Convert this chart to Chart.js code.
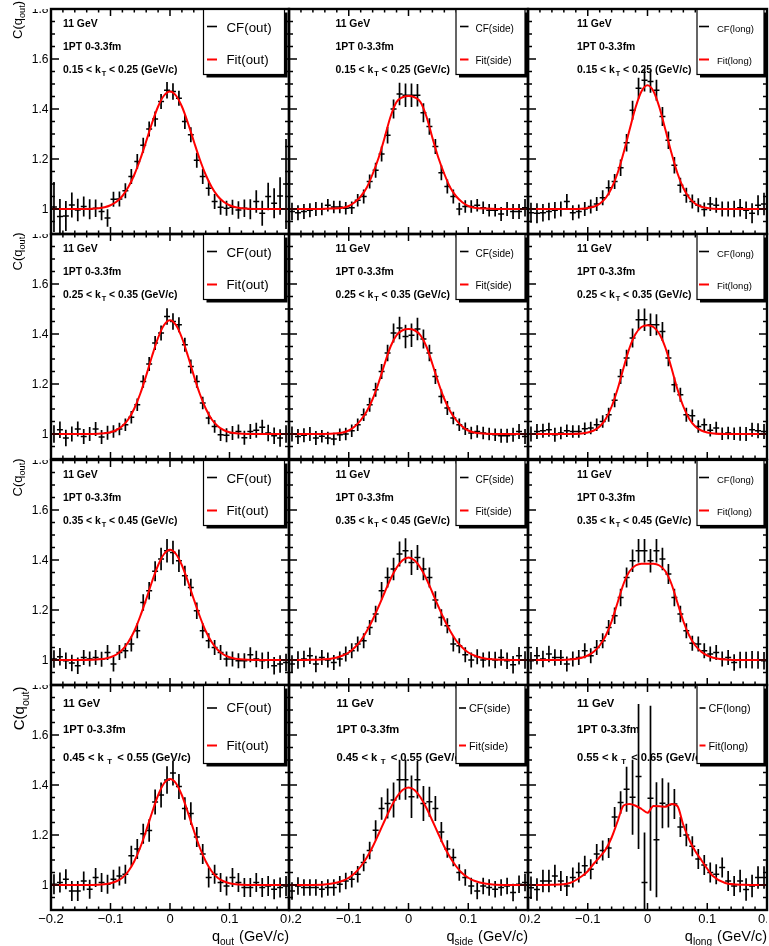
<!DOCTYPE html>
<html>
<head>
<meta charset="utf-8">
<script src="https://cdn.jsdelivr.net/npm/chart.js@4.4.1/dist/chart.umd.min.js"></script>
<style>
  html, body { margin: 0; padding: 0; background: #fff; }
  #wrap { position: relative; width: 769px; height: 946px; overflow: hidden; }
  #wrap canvas { position: absolute; }
</style>
</head>
<body>
<div id="wrap"></div>
<script>
// bin centres (GeV/c), bin width 0.01
const qBins = [-0.195,-0.185,-0.175,-0.165,-0.155,-0.145,-0.135,-0.125,-0.115,-0.105,
  -0.095,-0.085,-0.075,-0.065,-0.055,-0.045,-0.035,-0.025,-0.015,-0.005,
  0.005,0.015,0.025,0.035,0.045,0.055,0.065,0.075,0.085,0.095,
  0.105,0.115,0.125,0.135,0.145,0.155,0.165,0.175,0.185,0.195];
const qFit = [-0.2,-0.16,-0.13,-0.11,-0.1,-0.09,-0.08,-0.07,-0.06,-0.05,-0.04,-0.03,-0.02,-0.01,
  0,0.01,0.02,0.03,0.04,0.05,0.06,0.07,0.08,0.09,0.1,0.11,0.13,0.16,0.2];

// row 1: 0.15 < kT < 0.25
const cfOut1 = [1.008,0.97,0.972,1.016,0.996,1.01,0.999,1.003,0.99,0.964,1.039,1.04,1.073,1.13,1.19,1.255,1.32,1.36,1.43,1.475,
  1.47,1.443,1.35,1.297,1.195,1.13,1.083,1.03,1.007,1.003,1.007,0.996,1.003,0.999,1.03,0.983,1.05,1.023,1.052,1.10];
const errOut1 = [0.1,0.07,0.06,0.05,0.045,0.04,0.04,0.035,0.035,0.035,0.03,0.03,0.03,0.03,0.03,0.03,0.03,0.03,0.03,0.033,
  0.033,0.03,0.03,0.03,0.03,0.03,0.03,0.03,0.03,0.03,0.03,0.035,0.035,0.04,0.045,0.05,0.055,0.06,0.075,0.18];
const fitOut1 = [1.0,1.0,1.001,1.007,1.015,1.029,1.052,1.088,1.137,1.199,1.271,1.345,1.41,1.454,1.47,
  1.454,1.41,1.345,1.271,1.199,1.137,1.088,1.052,1.029,1.015,1.007,1.001,1.0,1.0];
const cfSide1 = [0.99,0.985,0.99,0.995,1.0,1.0,1.015,1.008,1.008,1.003,1.005,1.035,1.05,1.11,1.155,1.22,1.295,1.40,1.46,1.455,
  1.455,1.455,1.385,1.33,1.25,1.145,1.09,1.05,1.0,1.01,1.01,1.015,1.005,0.995,0.995,0.98,1.0,0.99,0.99,1.005];
const errSide1 = [0.035,0.03,0.03,0.028,0.028,0.025,0.025,0.025,0.025,0.025,0.025,0.025,0.028,0.028,0.03,0.03,0.033,0.038,0.045,0.047,
  0.047,0.045,0.038,0.033,0.03,0.03,0.028,0.028,0.025,0.025,0.025,0.025,0.025,0.025,0.025,0.028,0.028,0.03,0.03,0.035];
const fitSide1 = [1.0,1.0,1.002,1.005,1.012,1.027,1.05,1.085,1.14,1.205,1.285,1.37,1.428,1.447,1.452,
  1.447,1.428,1.37,1.285,1.205,1.14,1.085,1.05,1.027,1.012,1.005,1.002,1.0,1.0];
const cfLong1 = [0.985,0.983,0.985,0.99,0.995,1.0,1.03,0.985,0.99,1.0,1.01,1.02,1.045,1.085,1.11,1.165,1.265,1.395,1.483,1.515,
  1.51,1.475,1.37,1.275,1.175,1.095,1.055,1.03,1.015,0.998,1.02,1.015,1.0,1.0,1.0,1.005,0.995,0.983,1.015,1.02];
const errLong1 = [0.04,0.04,0.035,0.035,0.033,0.03,0.03,0.03,0.028,0.028,0.028,0.028,0.03,0.03,0.03,0.033,0.035,0.038,0.042,0.045,
  0.045,0.042,0.038,0.035,0.033,0.03,0.03,0.028,0.028,0.028,0.028,0.03,0.03,0.03,0.033,0.035,0.035,0.04,0.04,0.045];
const fitLong1 = [1.0,1.0,1.0,1.001,1.004,1.009,1.021,1.044,1.084,1.144,1.225,1.317,1.406,1.471,1.495,
  1.471,1.406,1.317,1.225,1.144,1.084,1.044,1.021,1.009,1.004,1.001,1.0,1.0,1.0];

// row 2: 0.25 < kT < 0.35
const cfOut2 = [1.0,1.017,0.984,1.0,1.02,0.99,1.0,1.02,0.988,1.005,1.01,1.02,1.037,1.067,1.117,1.21,1.28,1.364,1.404,1.47,
  1.45,1.437,1.357,1.27,1.21,1.124,1.064,1.03,0.997,0.995,1.004,1.01,0.985,1.01,1.015,1.027,1.004,0.993,0.984,1.0];
const errOut2 = [0.035,0.033,0.033,0.03,0.03,0.03,0.028,0.028,0.028,0.028,0.025,0.025,0.025,0.025,0.025,0.025,0.028,0.028,0.03,0.033,
  0.033,0.03,0.028,0.028,0.025,0.025,0.025,0.025,0.025,0.028,0.028,0.028,0.028,0.03,0.03,0.03,0.033,0.033,0.035,0.035];
const fitOut2 = [1.0,1.0,1.0,1.003,1.007,1.016,1.032,1.059,1.102,1.161,1.234,1.313,1.385,1.436,1.455,
  1.436,1.385,1.313,1.234,1.161,1.102,1.059,1.032,1.016,1.007,1.003,1.0,1.0,1.0];
const cfSide2 = [1.0,0.99,0.995,1.0,0.984,0.991,0.984,0.98,0.997,1.0,1.013,1.037,1.077,1.117,1.177,1.25,1.324,1.404,1.424,1.39,
  1.395,1.42,1.38,1.324,1.23,1.15,1.104,1.064,1.037,1.021,1.004,1.01,1.004,1.0,0.997,0.993,0.993,0.997,1.01,0.99];
const errSide2 = [0.03,0.03,0.028,0.028,0.028,0.025,0.025,0.025,0.025,0.025,0.025,0.025,0.025,0.028,0.028,0.03,0.033,0.038,0.045,0.047,
  0.047,0.045,0.038,0.033,0.03,0.028,0.028,0.025,0.025,0.025,0.025,0.025,0.025,0.025,0.025,0.028,0.028,0.028,0.03,0.03];
const fitSide2 = [1.0,1.0,1.001,1.006,1.014,1.03,1.055,1.09,1.14,1.205,1.28,1.35,1.395,1.415,1.42,
  1.415,1.395,1.35,1.28,1.205,1.14,1.09,1.055,1.03,1.014,1.006,1.001,1.0,1.0];
const cfLong2 = [1.0,1.01,1.013,1.017,0.997,1.004,1.013,1.01,1.01,1.021,1.024,1.037,1.05,1.077,1.135,1.23,1.304,1.384,1.457,1.457,
  1.437,1.437,1.41,1.304,1.197,1.157,1.077,1.073,1.03,1.037,1.015,1.024,1.001,1.004,1.001,1.001,1.0,1.017,1.013,1.01];
const errLong2 = [0.03,0.03,0.028,0.028,0.028,0.025,0.025,0.025,0.025,0.025,0.025,0.025,0.025,0.028,0.028,0.03,0.033,0.038,0.042,0.045,
  0.045,0.042,0.038,0.033,0.03,0.028,0.028,0.025,0.025,0.025,0.025,0.025,0.025,0.025,0.025,0.028,0.028,0.028,0.03,0.03];
const fitLong2 = [1.0,1.0,1.0,1.002,1.006,1.014,1.03,1.06,1.11,1.18,1.265,1.345,1.40,1.428,1.435,
  1.428,1.40,1.345,1.265,1.18,1.11,1.06,1.03,1.014,1.006,1.002,1.0,1.0,1.0];

// row 3: 0.35 < kT < 0.45
const cfOut3 = [1.004,1.013,0.997,0.988,0.977,1.01,1.004,1.01,1.003,1.03,0.984,1.03,1.037,1.064,1.117,1.23,1.277,1.355,1.404,1.437,
  1.43,1.397,1.337,1.29,1.197,1.117,1.077,1.05,1.03,1.004,1.004,0.997,0.997,1.021,1.004,0.997,1.0,0.977,0.984,0.99];
const errOut3 = [0.035,0.035,0.033,0.033,0.033,0.03,0.03,0.03,0.03,0.03,0.03,0.03,0.03,0.03,0.03,0.033,0.035,0.04,0.045,0.047,
  0.047,0.045,0.04,0.035,0.033,0.03,0.03,0.03,0.03,0.03,0.03,0.03,0.03,0.03,0.033,0.033,0.033,0.035,0.035,0.035];
const fitOut3 = [1.0,1.0,1.001,1.005,1.011,1.022,1.041,1.072,1.116,1.175,1.243,1.315,1.379,1.424,1.441,
  1.424,1.379,1.315,1.243,1.175,1.116,1.072,1.041,1.022,1.011,1.005,1.001,1.0,1.0];
const cfSide3 = [0.984,1.0,1.004,1.017,0.984,1.01,1.0,0.99,1.004,1.024,1.037,1.064,1.077,1.13,1.184,1.277,1.33,1.364,1.424,1.437,
  1.39,1.41,1.364,1.33,1.24,1.17,1.137,1.064,1.057,1.021,1.0,1.013,1.0,1.004,1.0,1.01,0.997,0.981,1.017,1.0];
const errSide3 = [0.035,0.035,0.033,0.033,0.033,0.03,0.03,0.03,0.03,0.03,0.03,0.03,0.03,0.03,0.033,0.035,0.04,0.045,0.05,0.05,
  0.05,0.05,0.045,0.04,0.035,0.033,0.03,0.03,0.03,0.03,0.03,0.03,0.03,0.03,0.033,0.033,0.033,0.035,0.035,0.035];
const fitSide3 = [1.0,1.001,1.005,1.018,1.03,1.05,1.077,1.115,1.161,1.214,1.27,1.324,1.369,1.399,1.41,
  1.399,1.369,1.324,1.27,1.214,1.161,1.115,1.077,1.05,1.03,1.018,1.005,1.001,1.0];
const cfLong3 = [0.997,1.017,1.004,1.024,1.01,1.01,0.984,1.004,1.01,1.037,1.017,1.05,1.077,1.13,1.177,1.25,1.33,1.397,1.437,1.437,
  1.397,1.437,1.404,1.344,1.25,1.184,1.117,1.067,1.064,1.037,1.024,1.03,1.004,1.01,0.99,1.0,1.0,1.001,1.0,0.997];
const errLong3 = [0.035,0.035,0.033,0.033,0.033,0.03,0.03,0.03,0.03,0.03,0.03,0.03,0.03,0.03,0.033,0.035,0.04,0.045,0.047,0.047,
  0.047,0.047,0.045,0.04,0.035,0.033,0.03,0.03,0.03,0.03,0.03,0.03,0.03,0.03,0.033,0.033,0.033,0.035,0.035,0.035];
const fitLong3 = [1.0,1.0,1.002,1.009,1.018,1.033,1.058,1.097,1.155,1.23,1.305,1.355,1.378,1.385,1.385,
  1.385,1.378,1.355,1.305,1.23,1.155,1.097,1.058,1.033,1.018,1.009,1.002,1.0,1.0];

// row 4: 0.45 < kT < 0.55 (long panel: 0.55 < kT < 0.65)
const cfOut4 = [1.003,1.01,1.023,0.976,0.976,1.016,0.983,1.03,1.01,1.003,1.023,1.036,1.043,1.117,1.144,1.205,1.218,1.332,1.36,1.42,
  1.448,1.394,1.306,1.286,1.192,1.124,1.03,1.043,1.01,0.996,1.03,1.01,0.99,0.99,1.01,0.99,0.996,0.983,0.99,0.996];
const errOut4 = [0.04,0.04,0.04,0.04,0.04,0.038,0.038,0.038,0.038,0.038,0.038,0.038,0.038,0.04,0.04,0.04,0.045,0.05,0.05,0.055,
  0.05,0.05,0.045,0.045,0.04,0.04,0.04,0.038,0.038,0.038,0.038,0.038,0.038,0.038,0.038,0.038,0.04,0.04,0.04,0.04];
const fitOut4 = [1.0,1.0,1.0,1.003,1.007,1.015,1.029,1.055,1.095,1.15,1.218,1.291,1.359,1.407,1.424,
  1.407,1.359,1.291,1.218,1.15,1.095,1.055,1.029,1.015,1.007,1.003,1.0,1.0,1.0];
const cfSide4 = [0.976,0.996,0.99,0.99,0.99,0.983,0.99,0.99,1.003,1.016,1.023,1.043,1.09,1.138,1.219,1.306,1.326,1.34,1.421,1.421,
  1.353,1.421,1.326,1.333,1.306,1.212,1.144,1.11,1.05,1.03,0.996,0.976,0.996,0.99,0.983,0.99,0.996,0.97,1.003,1.01];
const errSide4 = [0.035,0.035,0.033,0.033,0.033,0.033,0.033,0.033,0.033,0.033,0.033,0.033,0.035,0.035,0.04,0.045,0.06,0.07,0.08,0.08,
  0.085,0.075,0.07,0.06,0.05,0.04,0.035,0.035,0.033,0.033,0.033,0.033,0.033,0.033,0.033,0.033,0.033,0.035,0.035,0.035];
const fitSide4 = [1.0,1.0,1.005,1.017,1.029,1.047,1.074,1.109,1.153,1.204,1.257,1.308,1.351,1.38,1.39,
  1.38,1.351,1.308,1.257,1.204,1.153,1.109,1.074,1.047,1.029,1.017,1.005,1.0,1.0];
const cfLong4 = [0.989,0.982,1.016,1.016,1.036,1.016,0.996,1.03,1.05,1.077,1.063,1.124,1.138,1.148,1.272,1.33,1.383,1.351,1.434,1.01,
  1.347,1.181,1.327,1.32,1.324,1.232,1.2,1.155,1.104,1.08,1.05,1.043,1.07,1.016,0.996,1.016,0.982,0.996,1.03,1.03];
const errLong4 = [0.045,0.045,0.045,0.045,0.045,0.04,0.04,0.04,0.04,0.04,0.04,0.04,0.04,0.04,0.04,0.045,0.09,0.15,0.29,0.2,
  0.37,0.23,0.1,0.09,0.06,0.04,0.045,0.04,0.04,0.04,0.04,0.04,0.04,0.04,0.04,0.045,0.045,0.045,0.045,0.045];
const fitLong4 = [1.0,1.001,1.008,1.035,1.055,1.085,1.112,1.142,1.19,1.255,1.318,1.324,1.317,1.304,1.289,
  1.316,1.315,1.313,1.324,1.316,1.24,1.18,1.135,1.10,1.065,1.035,1.008,1.001,1.0];

// axes and labels
const xMajor = [-0.2, -0.1, 0, 0.1, 0.2];
const xTickLabels = ['\u22120.2', '\u22120.1', '0', '0.1', '0.2'];
const yMajor = [1, 1.2, 1.4, 1.6, 1.8];
const yTickLabels = ['1', '1.2', '1.4', '1.6', '1.8'];
const directions = ['out', 'side', 'long'];
const kTEdges = [['0.15', '0.25'], ['0.25', '0.35'], ['0.35', '0.45'], ['0.45', '0.55']];
const kTEdgesLong = [['0.15', '0.25'], ['0.25', '0.35'], ['0.35', '0.45'], ['0.55', '0.65']];
const energyLabel = '11 GeV';
const centLabel = '1PT 0-3.3fm';

const cfRows = [[cfOut1, cfSide1, cfLong1], [cfOut2, cfSide2, cfLong2], [cfOut3, cfSide3, cfLong3], [cfOut4, cfSide4, cfLong4]];
const errRows = [[errOut1, errSide1, errLong1], [errOut2, errSide2, errLong2], [errOut3, errSide3, errLong3], [errOut4, errSide4, errLong4]];
const fitRows = [[fitOut1, fitSide1, fitLong1], [fitOut2, fitSide2, fitLong2], [fitOut3, fitSide3, fitLong3], [fitOut4, fitSide4, fitLong4]];

// layout (page pixels)
const colLeft = [51, 289, 528];
const colWidth = [238, 239, 239];
const rowTop = [9, 234, 460, 685];
const rowHeight = 225;
const halfBin = 0.005;
const FONT = '"Liberation Sans", Arial, Helvetica, sans-serif';

function richWidth(ctx, parts, size, weight) {
  let w = 0;
  for (const p of parts) {
    ctx.font = weight + ' ' + (p.sub ? size * 0.7 : size) + 'px ' + FONT;
    w += ctx.measureText(p.t).width + (p.gap || 0);
  }
  return w;
}

function drawRich(ctx, parts, x, y, size, weight) {
  let cx = x;
  ctx.textAlign = 'left';
  ctx.textBaseline = 'alphabetic';
  for (const p of parts) {
    ctx.font = weight + ' ' + (p.sub ? size * 0.7 : size) + 'px ' + FONT;
    cx += p.gap || 0;
    ctx.fillText(p.t, cx, y + (p.sub ? size * 0.3 : 0));
    cx += ctx.measureText(p.t).width;
  }
}

const rootPad = {
  id: 'rootPad',
  beforeDatasetsDraw(chart, args, o) {
    const ctx = chart.ctx, a = chart.chartArea;
    const r = o.row, c = o.col;
    const big = r === 3;
    const tx = a.left + [12, big ? 47.5 : 46.5, 49][c];
    const base = big ? [22, 48, 75.5] : [18, 41, 63.5];
    const size = big ? 11.2 : 10.4;
    const edges = c === 2 ? kTEdgesLong[r] : kTEdges[r];
    ctx.save();
    ctx.fillStyle = '#000';
    drawRich(ctx, [{t: energyLabel}], tx, a.top + base[0], size, 'bold');
    drawRich(ctx, [{t: centLabel}], tx, a.top + base[1], size, 'bold');
    drawRich(ctx, [
      {t: edges[0] + ' < k'},
      {t: 'T', sub: true, gap: big ? 3.5 : 0.8},
      {t: ' < ' + edges[1] + ' (GeV/c)', gap: big ? 2 : 0}
    ], tx, a.top + base[2], size, 'bold');
    ctx.restore();
  },
  afterDatasetsDraw(chart, args, o) {
    const ctx = chart.ctx, a = chart.chartArea;
    const xs = chart.scales.x, ys = chart.scales.y;
    const r = o.row, c = o.col;
    const big = r === 3;
    ctx.save();
    // frame
    ctx.strokeStyle = '#000';
    ctx.lineWidth = 2.4;
    ctx.strokeRect(a.left, a.top, a.right - a.left, a.bottom - a.top);
    // ticks pointing inwards on all four sides
    ctx.lineWidth = 1.5;
    ctx.beginPath();
    const xMaj = 7, xMin = 3.5, yMaj = 8, yMin = 4;
    for (let i = 0; i < xMajor.length; i++) {
      const px = xs.getPixelForValue(xMajor[i]);
      ctx.moveTo(px, a.bottom); ctx.lineTo(px, a.bottom - xMaj);
      ctx.moveTo(px, a.top); ctx.lineTo(px, a.top + xMaj);
      if (i < xMajor.length - 1) {
        for (let k = 1; k < 5; k++) {
          const v = xMajor[i] + (xMajor[i + 1] - xMajor[i]) * k / 5;
          const pm = xs.getPixelForValue(v);
          ctx.moveTo(pm, a.bottom); ctx.lineTo(pm, a.bottom - xMin);
          ctx.moveTo(pm, a.top); ctx.lineTo(pm, a.top + xMin);
        }
      }
    }
    const yStep = (yMajor[1] - yMajor[0]) / 4;
    for (let v = ys.min; v <= ys.max + 1e-9; v += yStep) {
      const py = ys.getPixelForValue(v);
      const major = yMajor.some(m => Math.abs(m - v) < 1e-6);
      const len = major ? yMaj : yMin;
      ctx.moveTo(a.left, py); ctx.lineTo(a.left + len, py);
      ctx.moveTo(a.right, py); ctx.lineTo(a.right - len, py);
    }
    ctx.stroke();
    ctx.fillStyle = '#000';
    // y tick labels and title (left column only)
    if (c === 0) {
      ctx.save();
      ctx.beginPath();
      ctx.rect(0, a.top, a.left, a.bottom - a.top + 8);
      ctx.clip();
      ctx.font = '12px ' + FONT;
      ctx.textAlign = 'right';
      ctx.textBaseline = 'middle';
      yMajor.forEach((v, i) => ctx.fillText(yTickLabels[i], a.left - 2.5, ys.getPixelForValue(v) + 0.5));
      ctx.restore();
      const tSize = big ? 15 : 13;
      const parts = [{t: 'C(q'}, {t: directions[0], sub: true}, {t: ')'}];
      const w = richWidth(ctx, parts, tSize, '');
      const endY = r === 0 ? 1 : (big ? a.top + 1.5 : a.top - 1.5);
      ctx.save();
      ctx.translate(big ? 24 : 21.5, endY);
      ctx.rotate(-Math.PI / 2);
      drawRich(ctx, parts, -w, 0, tSize, '');
      ctx.restore();
    }
    // x tick labels and title (bottom row only)
    if (big) {
      ctx.save();
      ctx.beginPath();
      ctx.rect(c === 0 ? 0 : a.left, a.bottom, (a.right - (c === 0 ? 0 : a.left)), 60);
      ctx.clip();
      ctx.font = '13px ' + FONT;
      ctx.textAlign = 'center';
      ctx.textBaseline = 'top';
      xMajor.forEach((v, i) => ctx.fillText(xTickLabels[i], xs.getPixelForValue(v), a.bottom + 3));
      ctx.restore();
      const parts = [{t: 'q'}, {t: directions[c], sub: true}, {t: ' (GeV/c)', gap: 1}];
      const w = richWidth(ctx, parts, 14.5, '');
      drawRich(ctx, parts, a.right - w, a.bottom + 31, 14.5, '');
    }
    ctx.restore();
  },
  afterDraw(chart, args, o) {
    const ctx = chart.ctx, a = chart.chartArea;
    const r = o.row, c = o.col;
    const big = r === 3;
    const bx = a.left + [152.5, 167, 169][c];
    const bw = [81, 69, 67][c];
    const bh = big ? 78 : 65;
    const by = a.top + 0.5;
    ctx.save();
    ctx.fillStyle = '#000';
    ctx.fillRect(bx + 3, by + 3, bw, bh);
    ctx.fillStyle = '#fff';
    ctx.fillRect(bx, by, bw, bh);
    ctx.strokeStyle = '#000';
    ctx.lineWidth = 1.2;
    ctx.strokeRect(bx, by, bw, bh);
    const lineY = big ? [22.5, 60] : [17, 50];
    const textY = big ? [26, 64] : [22, 54.5];
    const sizes = big ? [13.3, 10.8, 10.8] : [13.3, 10, 9.5];
    const lx = big ? [[3.5, 13.5], [3, 10], [2.5, 8.5]][c] : [[3.5, 13.5], [4, 12.5], [2, 12]][c];
    const txo = big ? [23, 13, 11.5][c] : [23, 19.5, 20][c];
    const labels = ['CF(' + directions[c] + ')', 'Fit(' + directions[c] + ')'];
    const colors = ['#000', '#ff0000'];
    for (let i = 0; i < 2; i++) {
      ctx.strokeStyle = colors[i];
      ctx.lineWidth = i === 0 ? 1.6 : 2;
      ctx.beginPath();
      ctx.moveTo(bx + lx[0], by + lineY[i]);
      ctx.lineTo(bx + lx[1], by + lineY[i]);
      ctx.stroke();
      ctx.fillStyle = '#000';
      ctx.font = sizes[c] + 'px ' + FONT;
      ctx.textAlign = 'left';
      ctx.textBaseline = 'alphabetic';
      ctx.fillText(labels[i], bx + txo, by + textY[i]);
    }
    ctx.restore();
  }
};

function errorBarPoints(cf, err) {
  const pts = [];
  qBins.forEach((q, i) => {
    pts.push({x: q - halfBin, y: cf[i]}, {x: q + halfBin, y: cf[i]}, {x: q, y: null});
    pts.push({x: q, y: cf[i] - err[i]}, {x: q, y: cf[i] + err[i]}, {x: q, y: null});
  });
  return pts;
}

const wrap = document.getElementById('wrap');
for (let r = 0; r < 4; r++) {
  for (let c = 0; c < 3; c++) {
    const padL = c === 0 ? colLeft[0] : 4;
    const padT = r === 0 ? rowTop[0] : 6;
    const padR = 4;
    const padB = r === 3 ? 36 : 4;
    const w = padL + colWidth[c] + padR;
    const h = padT + rowHeight + padB;
    const cv = document.createElement('canvas');
    cv.width = w; cv.height = h;
    cv.style.width = w + 'px'; cv.style.height = h + 'px';
    cv.style.left = (colLeft[c] - padL) + 'px';
    cv.style.top = (rowTop[r] - padT) + 'px';
    wrap.appendChild(cv);

    new Chart(cv, {
      type: 'scatter',
      data: {
        datasets: [
          {
            label: 'Fit(' + directions[c] + ')',
            data: qFit.map((q, i) => ({x: q, y: fitRows[r][c][i]})),
            showLine: true,
            borderColor: '#ff0000',
            borderWidth: 2,
            pointRadius: 0,
            cubicInterpolationMode: 'monotone'
          },
          {
            label: 'CF(' + directions[c] + ')',
            data: errorBarPoints(cfRows[r][c], errRows[r][c]),
            showLine: true,
            spanGaps: false,
            borderColor: '#000',
            borderWidth: 1.7,
            pointRadius: 0,
            tension: 0
          }
        ]
      },
      options: {
        responsive: false,
        animation: false,
        devicePixelRatio: 1,
        events: [],
        layout: { padding: { left: padL, top: padT, right: padR, bottom: padB } },
        scales: {
          x: { type: 'linear', min: -0.2, max: 0.2, display: false },
          y: { type: 'linear', min: 0.9, max: 1.8, display: false }
        },
        plugins: {
          legend: { display: false },
          tooltip: { enabled: false },
          rootPad: { row: r, col: c }
        }
      },
      plugins: [rootPad]
    });
  }
}
</script>
</body>
</html>
